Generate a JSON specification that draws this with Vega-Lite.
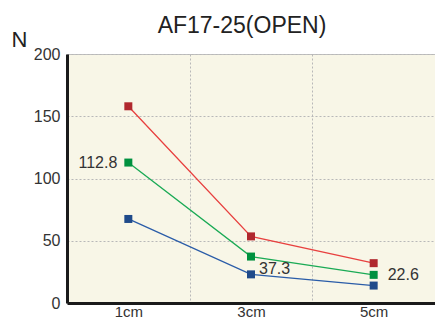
{
  "$schema": "https://vega.github.io/schema/vega-lite/v6.json",
  "width": 368,
  "height": 249,
  "autosize": {"type": "none"},
  "padding": {"left": 67, "top": 54, "right": 0, "bottom": 15},
  "background": "white",
  "title": {"text": "AF17-25(OPEN)", "fontSize": 23, "fontWeight": "normal", "color": "#222222", "anchor": "middle", "dx": -9, "offset": -10},
  "config": {
    "font": "Liberation Sans",
    "view": {"stroke": "#c0c0c0", "fill": "#f8f6e7"}
  },
  "data": {"values": [
    {"dist": "1cm", "series": "red", "N": 158},
    {"dist": "3cm", "series": "red", "N": 53.5},
    {"dist": "5cm", "series": "red", "N": 32},
    {"dist": "1cm", "series": "green", "N": 112.8},
    {"dist": "3cm", "series": "green", "N": 37.3},
    {"dist": "5cm", "series": "green", "N": 22.6},
    {"dist": "1cm", "series": "blue", "N": 67.5},
    {"dist": "3cm", "series": "blue", "N": 23},
    {"dist": "5cm", "series": "blue", "N": 14}
  ]},
  "encoding": {
    "x": {"field": "dist", "type": "ordinal", "scale": {"type": "band", "paddingInner": 0, "paddingOuter": 0},
      "axis": {"title": null, "labelAngle": 0, "labelFontSize": 15, "labelColor": "#333333", "labelBaseline": "alphabetic", "labelPadding": 13, "ticks": false, "domainColor": "#1a1a1a", "domainWidth": 3, "grid": true, "tickBand": "extent", "gridColor": "#b8b8b8", "gridDash": [2, 2], "gridWidth": 1}},
    "y": {"field": "N", "type": "quantitative", "scale": {"domain": [0, 200], "nice": false},
      "axis": {"values": [0, 50, 100, 150, 200], "labelFontSize": 16, "labelColor": "#333333", "labelPadding": 7, "ticks": false, "domainColor": "#1a1a1a", "domainWidth": 3, "gridColor": "#b8b8b8", "gridDash": [2, 2], "gridWidth": 1,
        "title": "N", "titleAngle": 0, "titleFontSize": 22, "titleFontWeight": "normal", "titleColor": "#222222", "titleX": -48, "titleY": -8, "titleAlign": "center", "titleBaseline": "alphabetic"}}
  },
  "layer": [
    {"mark": {"type": "line", "strokeWidth": 1.3},
     "encoding": {"color": {"field": "series", "type": "nominal", "legend": null,
       "scale": {"domain": ["red", "green", "blue"], "range": ["#e8403f", "#1aaa55", "#2a5ca8"]}}}},
    {"mark": {"type": "point", "shape": "square", "filled": true, "size": 64, "opacity": 1},
     "encoding": {"color": {"field": "series", "type": "nominal", "legend": null,
       "scale": {"domain": ["red", "green", "blue"], "range": ["#b0282e", "#00913f", "#1f4a8a"]}}}},
    {"transform": [{"filter": "datum.series == 'green' && datum.dist == '1cm'"}],
     "mark": {"type": "text", "align": "right", "baseline": "middle", "dx": -11, "fontSize": 16, "color": "#333333"},
     "encoding": {"text": {"field": "N", "type": "quantitative", "format": ".1f"}}},
    {"transform": [{"filter": "datum.series == 'green' && datum.dist == '3cm'"}],
     "mark": {"type": "text", "align": "left", "baseline": "middle", "dx": 8, "dy": 12, "fontSize": 16, "color": "#333333"},
     "encoding": {"text": {"field": "N", "type": "quantitative", "format": ".1f"}}},
    {"transform": [{"filter": "datum.series == 'green' && datum.dist == '5cm'"}],
     "mark": {"type": "text", "align": "left", "baseline": "middle", "dx": 14, "fontSize": 16, "color": "#333333"},
     "encoding": {"text": {"field": "N", "type": "quantitative", "format": ".1f"}}}
  ],
  "resolve": {"scale": {"color": "independent"}}
}
